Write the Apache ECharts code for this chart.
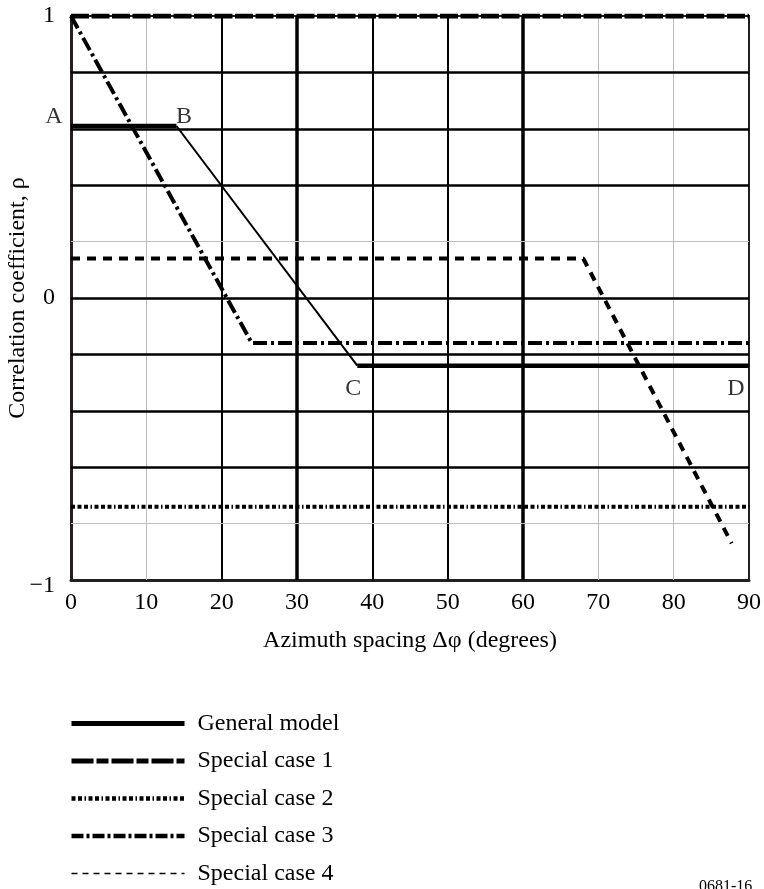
<!DOCTYPE html>
<html>
<head>
<meta charset="utf-8">
<script src="https://cdn.jsdelivr.net/npm/echarts@6/dist/echarts.min.js"></script>
<style>
html,body{margin:0;padding:0;background:#fff;}
#chart{width:764px;height:889px;}
</style>
</head>
<body>
<div id="chart"></div>
<script>
// ---- data ----
const xTicks = [0, 10, 20, 30, 40, 50, 60, 70, 80, 90];
const yTickLabels = { '1': '1', '0': '0', '-1': '\u22121' };
const seriesNames = ['General model', 'Special case 1', 'Special case 2', 'Special case 3', 'Special case 4'];

const generalX = [0, 14, 38, 90];
const generalY = [0.61, 0.61, -0.24, -0.24];
const pointLabels = ['A', 'B', 'C', 'D'];

const case1X = [0, 90];
const case1Y = [1, 1];
const case2X = [0, 90];
const case2Y = [-0.74, -0.74];
const case3X = [0, 24, 90];
const case3Y = [1, -0.16, -0.16];
const case4X = [0, 68, 87.7];
const case4Y = [0.14, 0.14, -0.87];

const gridXValues = [10, 20, 30, 40, 50, 60, 70, 80];
const gridYValues = [0.8, 0.6, 0.4, 0.2, 0, -0.2, -0.4, -0.6, -0.8];

// ---- styles ----
const FONT = 'Liberation Serif';
const lightLine = { color: '#bdbdbd', width: 1, type: 'solid' };
const blackLine = { color: '#000', width: 2, type: 'solid' };
const heavyLine = { color: '#000', width: 3.5, type: 'solid' };
function vStyle(v) { if (v === 10 || v === 70 || v === 80) return lightLine; if (v === 30 || v === 60) return heavyLine; return blackLine; }
function hStyle(v) { if (v === 0.2 || v === -0.8) return lightLine; return Object.assign({}, blackLine, { width: 2.5 }); }

function pairs(xs, ys) { return xs.map((x, i) => [x, ys[i]]); }

const labelPos = {
  A: { position: 'left', offset: [-3, -9] },
  B: { position: 'right', offset: [-6, -9] },
  C: { position: 'bottom', offset: [-4, 6] },
  D: { position: 'bottom', offset: [-13, 6] }
};

// thick part of general model: A-B and C-D, with a break
const genThick = [];
generalX.forEach((x, i) => {
  genThick.push([x, generalY[i]]);
  if (i === 1) genThick.push([(generalX[1] + generalX[2]) / 2, null]);
});
const genThin = pairs(generalX.slice(1, 3), generalY.slice(1, 3));
const labelPoints = generalX.map((x, i) => ({
  value: [x, generalY[i]],
  label: Object.assign({ show: true, formatter: pointLabels[i], fontFamily: FONT, fontSize: 24, color: '#000' }, labelPos[pointLabels[i]])
}));

const markData = [];
gridXValues.forEach(v => markData.push({ xAxis: v, lineStyle: vStyle(v) }));
gridYValues.forEach(v => markData.push({ yAxis: v, lineStyle: hStyle(v) }));

const hiddenSym = { color: 'rgba(0,0,0,0)', borderColor: 'rgba(0,0,0,0)', borderWidth: 0, opacity: 0 };

const chart = echarts.init(document.getElementById('chart'), null, { renderer: 'canvas' });
chart.setOption({
  backgroundColor: '#fff',
  animation: false,
  grid: { left: 71, right: 15, top: 16, bottom: 309, containLabel: false, outerBoundsMode: 'none',
    show: true, borderColor: '#231f20', borderWidth: 2, backgroundColor: 'transparent' },
  xAxis: {
    type: 'value', min: 0, max: 90, interval: 10,
    name: 'Azimuth spacing \u0394\u03c6 (degrees)', nameLocation: 'middle', nameGap: 49, nameMoveOverlap: false,
    nameTextStyle: { fontFamily: FONT, fontSize: 24, color: '#000' },
    axisLine: { show: true, onZero: false, lineStyle: { color: '#231f20', width: 3 } },
    axisTick: { show: false },
    splitLine: { show: false },
    axisLabel: { fontFamily: FONT, fontSize: 24, color: '#000', margin: 11,
      formatter: v => xTicks.indexOf(v) >= 0 ? String(v) : '' }
  },
  yAxis: {
    type: 'value', min: -1, max: 1, interval: 0.2,
    name: 'Correlation coefficient, \u03c1', nameLocation: 'middle', nameGap: 41, nameMoveOverlap: false,
    nameTextStyle: { fontFamily: FONT, fontSize: 24, color: '#000' },
    axisLine: { show: true, onZero: false, lineStyle: { color: '#231f20', width: 3 } },
    axisTick: { show: false },
    splitLine: { show: false },
    axisLabel: { fontFamily: FONT, fontSize: 24, color: '#000', margin: 16,
      formatter: v => {
        const k = String(Math.round(v * 10) / 10);
        if (yTickLabels[k] === undefined) return '';
        return k === '-1' ? '{lo|' + yTickLabels[k] + '}' : yTickLabels[k];
      },
      rich: { lo: { fontFamily: FONT, fontSize: 24, color: '#000', padding: [12, 0, 0, 0] } } }
  },
  legend: {
    orient: 'vertical', left: 69, top: 711, padding: 0, height: 178,
    itemWidth: 113, itemHeight: 12, itemGap: 12.5,
    textStyle: { fontFamily: FONT, fontSize: 24, color: '#000', lineHeight: 25, padding: [0, 0, 0, 8] },
    data: [
      { name: seriesNames[0], lineStyle: { width: 5, type: 'solid' }, itemStyle: hiddenSym },
      { name: seriesNames[1], lineStyle: { width: 5, type: [22, 3, 12, 3] }, itemStyle: hiddenSym },
      { name: seriesNames[2], lineStyle: { width: 4.5, type: [4, 2.5, 4, 2.5, 1.5, 2.5] }, itemStyle: hiddenSym },
      { name: seriesNames[3], lineStyle: { width: 4.5, type: [12, 3, 3, 3] }, itemStyle: hiddenSym },
      { name: seriesNames[4], lineStyle: { width: 1.5, type: [6, 5] }, itemStyle: hiddenSym }
    ]
  },
  graphic: [
    { type: 'text', left: 699, top: 879, style: { text: '0681-16', font: '16px "Liberation Serif"', fill: '#000' } }
  ],
  series: [
    { type: 'line', name: '_grid', data: [], z: 1, silent: true,
      markLine: { silent: true, symbol: 'none', animation: false, label: { show: false }, data: markData } },
    { type: 'line', name: seriesNames[1], data: pairs(case1X, case1Y), symbol: 'none', z: 5,
      lineStyle: { color: '#000', width: 5, type: [18, 2.5] }, itemStyle: { color: '#000' } },
    { type: 'line', name: seriesNames[2], data: pairs(case2X, case2Y), symbol: 'none', z: 5,
      lineStyle: { color: '#000', width: 4, type: [4, 2.5, 4, 2.5, 4, 2.5, 1.5, 2.5] }, itemStyle: { color: '#000' } },
    { type: 'line', name: seriesNames[3], data: pairs(case3X, case3Y), symbol: 'none', z: 5,
      lineStyle: { color: '#000', width: 4, type: [14, 4, 3, 4] }, itemStyle: { color: '#000' } },
    { type: 'line', name: seriesNames[4], data: pairs(case4X, case4Y), symbol: 'none', z: 5,
      lineStyle: { color: '#000', width: 4, type: [9, 7] }, itemStyle: { color: '#000' } },
    { type: 'line', name: seriesNames[0], data: genThick, symbol: 'none', connectNulls: false, z: 6,
      lineStyle: { color: '#000', width: 4.5, type: 'solid' }, itemStyle: { color: '#000' } },
    { type: 'line', name: 'General model (slope)', data: genThin, symbol: 'none', z: 6,
      lineStyle: { color: '#000', width: 2, type: 'solid' }, itemStyle: { color: '#000' } },
    { type: 'scatter', name: 'Point labels', data: labelPoints, symbolSize: 1, z: 7, silent: true,
      itemStyle: { color: 'rgba(0,0,0,0)' } }
  ]
});
</script>
</body>
</html>
